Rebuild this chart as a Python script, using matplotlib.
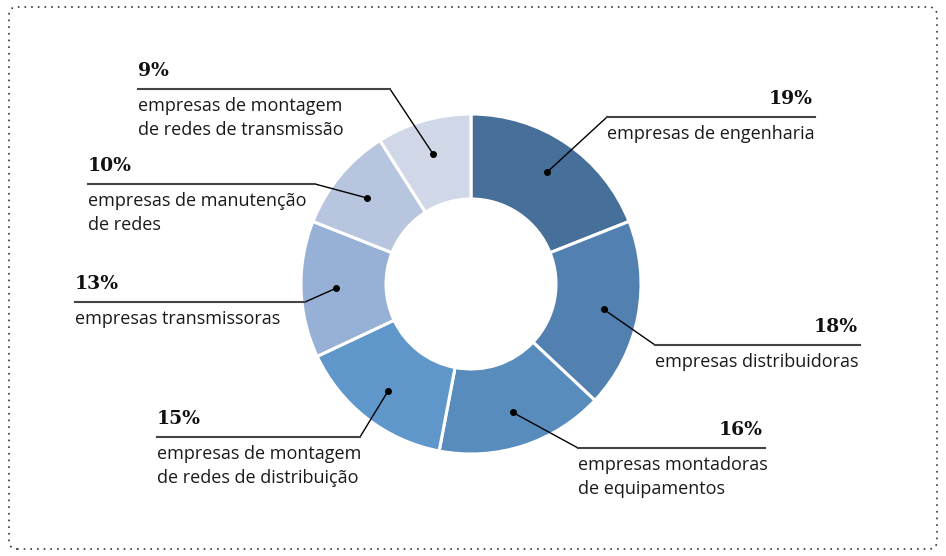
import numpy as np
import matplotlib
matplotlib.use("Agg")
import matplotlib.pyplot as plt
from matplotlib.patches import FancyBboxPatch

# Chart data (clockwise from 12 o'clock)
categories = [
    "empresas de engenharia",
    "empresas distribuidoras",
    "empresas montadoras\nde equipamentos",
    "empresas de montagem\nde redes de distribuição",
    "empresas transmissoras",
    "empresas de manutenção\nde redes",
    "empresas de montagem\nde redes de transmissão",
]
shares = [19, 18, 16, 15, 13, 10, 9]
slice_colors = ["#466f99", "#5180b1", "#578cbd", "#6097ca",
                "#97b0d5", "#b7c6de", "#d0d8e8"]

# Layout of the callouts in pixel coords (y from the top):
# elbow point, far end of the underline
callout_layout = [
    ((607, 117), 815),
    ((655, 345), 860),
    ((578, 448), 765),
    ((360, 437), 157),
    ((305, 302), 75),
    ((315, 184), 88),
    ((390, 89), 138),
]

W, H = 946, 556
CX, CY = 471, 284
R_OUT, R_IN = 170, 85
DOT_R = 135

fig = plt.figure(figsize=(W / 100, H / 100), dpi=100)
ax = fig.add_axes([0, 0, 1, 1])
ax.set_xlim(0, W)
ax.set_ylim(0, H)
ax.set_aspect("equal")
ax.axis("off")


def fy(y):
    # pixel y (from top) -> data y
    return H - y


# dotted frame
frame = FancyBboxPatch((9, 7), W - 18, H - 14,
                       boxstyle="round,pad=0,rounding_size=8",
                       fill=False, edgecolor="#333333", linewidth=1.2,
                       linestyle=(0, (1, 3)))
ax.add_patch(frame)

# donut
ax.pie(shares, colors=slice_colors, startangle=90, counterclock=False,
       center=(CX, fy(CY)), radius=R_OUT,
       wedgeprops=dict(width=R_OUT - R_IN, edgecolor="white", linewidth=2.2))
ax.set_xlim(0, W)
ax.set_ylim(0, H)

label_font = dict(family=["Open Sans", "DejaVu Sans"], fontsize=13,
                  color="#1a1a1a")
pct_font = dict(family=["DejaVu Serif"], fontsize=13.5, fontweight="bold",
                color="#111111")

cum = np.cumsum([0] + shares[:-1])
for i, (name, val) in enumerate(zip(categories, shares)):
    mid = np.deg2rad(90 - (cum[i] + val / 2) / sum(shares) * 360)
    dx = CX + DOT_R * np.cos(mid)
    dy = fy(CY) + DOT_R * np.sin(mid)
    (ex, ey), end_x = callout_layout[i]
    ey = fy(ey)

    ax.plot([dx, ex], [dy, ey], color="black", linewidth=1.0, zorder=5)
    ax.plot([ex, end_x], [ey, ey], color="#444444", linewidth=1.5, zorder=5)
    ax.plot(dx, dy, "o", color="black", markersize=4, zorder=6)

    right_side = end_x > ex
    if right_side:
        ax.text(end_x - 2, ey + 9, f"{val}%", ha="right", va="bottom",
                **pct_font)
        ax.text(ex, ey - 8, name, ha="left", va="top",
                linespacing=1.4, **label_font)
    else:
        ax.text(end_x, ey + 9, f"{val}%", ha="left", va="bottom", **pct_font)
        ax.text(end_x, ey - 8, name, ha="left", va="top",
                linespacing=1.4, **label_font)

fig.savefig("out.png", dpi=100)
